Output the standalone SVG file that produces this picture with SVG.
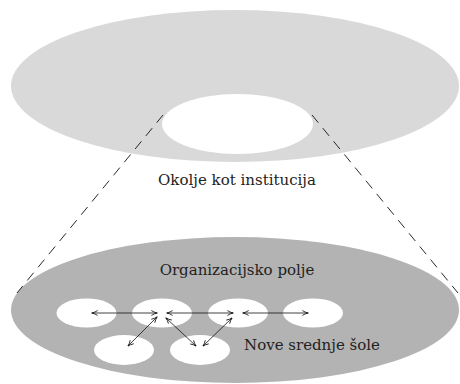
<svg xmlns="http://www.w3.org/2000/svg" width="460" height="384" viewBox="0 0 460 384">
<defs>
<style>
.lbl{font-family:"DejaVu Serif","Liberation Serif",serif;font-size:15px;fill:#222;text-anchor:middle}
.hole{fill:#fff}
.conn{stroke:#111;stroke-width:0.8;fill:none;marker-start:url(#ah);marker-end:url(#ah)}
.dash{stroke:#111;stroke-width:0.9;stroke-dasharray:10,7;fill:none}
</style>
<marker id="ah" viewBox="0 0 10 10" refX="9" refY="5" markerWidth="7" markerHeight="7" orient="auto-start-reverse" markerUnits="userSpaceOnUse">
<path d="M1,1.5 Q5,4.2 9.5,5 Q5,5.8 1,8.5" fill="none" stroke="#111" stroke-width="1.2"/>
</marker>
</defs>
<rect width="460" height="384" fill="#fff"/>
<g id="okolje">
<ellipse cx="235" cy="86" rx="224" ry="76" fill="#d9d9d9"/>
<ellipse cx="237.5" cy="124" rx="75.5" ry="30" class="hole"/>
<text x="237" y="185" class="lbl">Okolje kot institucija</text>
</g>
<g id="polje">
<ellipse cx="235" cy="310" rx="224" ry="73" fill="#b3b3b3"/>
<text x="237" y="275" class="lbl">Organizacijsko polje</text>
<text x="312" y="350" class="lbl">Nove srednje šole</text>
</g>
<g id="sole">
<ellipse id="s1" cx="86.5" cy="313" rx="30" ry="14.5" class="hole"/>
<ellipse id="s2" cx="162" cy="313" rx="30" ry="14.5" class="hole"/>
<ellipse id="s3" cx="238" cy="313" rx="30" ry="14.5" class="hole"/>
<ellipse id="s4" cx="313" cy="313" rx="30" ry="14.5" class="hole"/>
<ellipse id="s5" cx="124" cy="350" rx="30" ry="15" class="hole"/>
<ellipse id="s6" cx="200" cy="350" rx="30" ry="15" class="hole"/>
</g>
<g id="connectors">
<line x1="163" y1="115" x2="17" y2="293" class="dash"/>
<line x1="312" y1="115" x2="458" y2="293" class="dash"/>
<line x1="92" y1="313" x2="157" y2="313" class="conn"/>
<line x1="167" y1="313" x2="233" y2="313" class="conn"/>
<line x1="243" y1="313" x2="308" y2="313" class="conn"/>
<line x1="157" y1="317" x2="128" y2="346" class="conn"/>
<line x1="166" y1="318" x2="196" y2="346" class="conn"/>
<line x1="232" y1="318" x2="203" y2="346" class="conn"/>
</g>
</svg>
